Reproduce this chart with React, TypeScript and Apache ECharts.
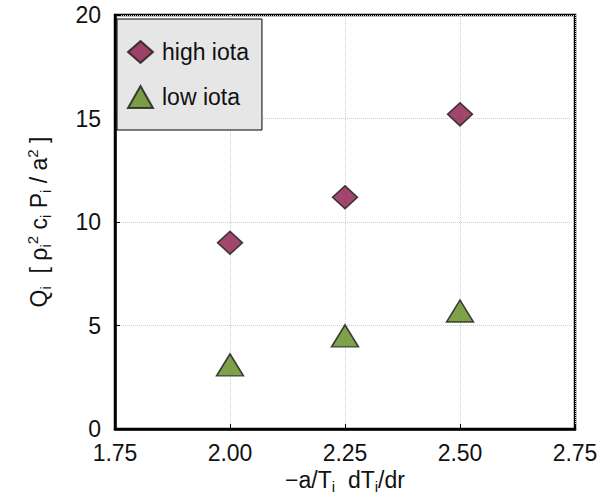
import React, { useEffect, useRef } from "react";
import * as echarts from "echarts";

const xValues = [2.0, 2.25, 2.5];
const highIota = [9.0, 11.2, 15.2];
const lowIota = [3.1, 4.5, 5.7];
const seriesNames = ["high iota", "low iota"];

export default function App() {
  const ref = useRef<HTMLDivElement>(null);
  useEffect(() => {
    if (!ref.current) return;
    const chart = echarts.init(ref.current, undefined, { renderer: "svg" });
    const font = "'Liberation Sans', Arial, Helvetica, sans-serif";
    const sub = { fontSize: 15, fontFamily: font, color: "#111", verticalAlign: "bottom", lineHeight: 28 };
    const sup = { fontSize: 15, fontFamily: font, color: "#111", verticalAlign: "top", lineHeight: 28 };
    const base = { fontSize: 23, fontFamily: font, color: "#111", lineHeight: 28 };
    chart.setOption({
      animation: false,
      backgroundColor: "#fff",
      grid: {
        left: 115,
        top: 15,
        right: 30,
        bottom: 68,
        outerBoundsMode: "none",
        show: true,
        borderColor: "#000",
        borderWidth: 2.5,
        backgroundColor: "transparent",
      },
      legend: {
        orient: "vertical",
        left: 117,
        top: 19,
        data: seriesNames,
        backgroundColor: "#e6e6e6",
        borderColor: "#000",
        borderWidth: 1,
        padding: [21, 13, 21, 10],
        itemWidth: 25,
        itemHeight: 22,
        itemGap: 21,
        textStyle: { fontSize: 23, fontFamily: font, color: "#111", padding: [0, 0, 0, 4] },
      },
      xAxis: {
        type: "value",
        min: 1.75,
        max: 2.75,
        interval: 0.25,
        name: "{b|−a/T}{s|i}{b|  dT}{s|i}{b|/dr}",
        nameLocation: "middle",
        nameGap: 36,
        nameTextStyle: { rich: { b: base, s: sub } },
        axisLine: { show: true, lineStyle: { color: "#000", width: 2.5 } },
        axisTick: { show: true, inside: true, length: 5, lineStyle: { color: "#000" } },
        axisLabel: {
          fontSize: 23,
          fontFamily: font,
          color: "#111",
          margin: 12,
          formatter: (v: number) => v.toFixed(2),
        },
        splitLine: { show: true, lineStyle: { type: "dotted", color: "#cfcfcf", width: 1 } },
      },
      yAxis: {
        type: "value",
        min: 0,
        max: 20,
        interval: 5,
        name: "{b|Q}{s|i}{b|  [ ρ}{s|i}{p|2}{b| c}{s|i}{b| P}{s|i}{b| / a}{p|2}{b| ]}",
        nameLocation: "middle",
        nameRotate: 90,
        nameGap: 62,
        nameTextStyle: { rich: { b: base, s: sub, p: sup } },
        axisLine: { show: true, lineStyle: { color: "#000", width: 2.5 } },
        axisTick: { show: true, inside: true, length: 5, lineStyle: { color: "#000" } },
        axisLabel: { fontSize: 23, fontFamily: font, color: "#111", margin: 14 },
        splitLine: { show: true, lineStyle: { type: "dotted", color: "#cfcfcf", width: 1 } },
      },
      series: [
        {
          name: seriesNames[0],
          type: "scatter",
          symbol: "diamond",
          symbolSize: [25, 23],
          itemStyle: { color: "#8A1848", borderColor: "#1a1a1a", borderWidth: 1.5 },
          data: xValues.map((x, i) => [x, highIota[i]]),
        },
        {
          name: seriesNames[1],
          type: "scatter",
          symbol: "triangle",
          symbolSize: [27, 22],
          itemStyle: { color: "#5E8A1C", borderColor: "#1a1a1a", borderWidth: 1.5 },
          data: xValues.map((x, i) => [x, lowIota[i]]),
        },
      ],
    });
    return () => chart.dispose();
  }, []);
  return <div ref={ref} style={{ width: 605, height: 497, position: "absolute", left: 0, top: 0 }} />;
}
